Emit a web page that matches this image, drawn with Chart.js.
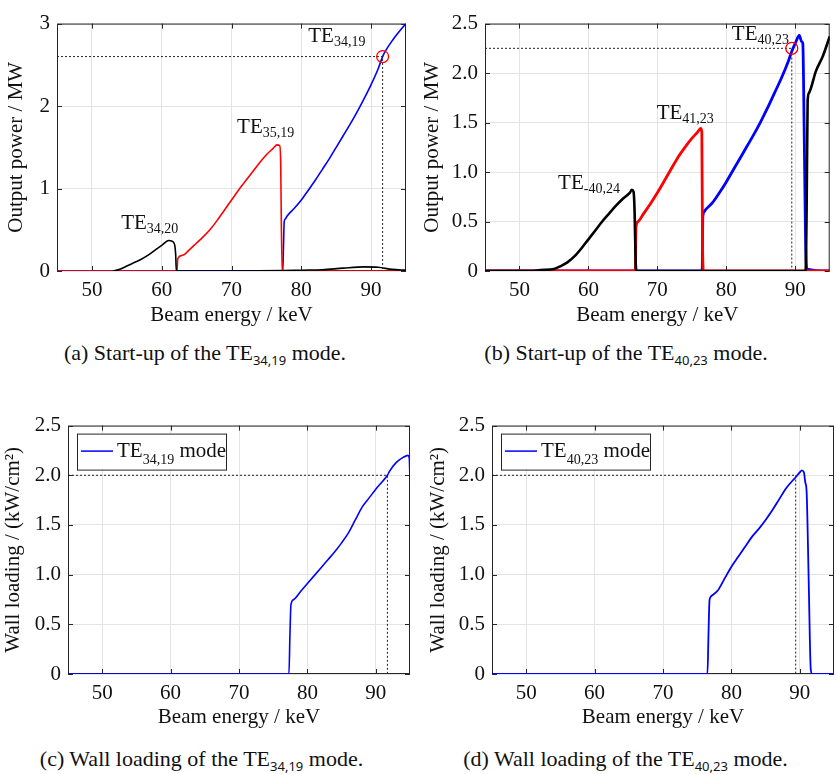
<!DOCTYPE html>
<html>
<head>
<meta charset="utf-8">
<script src="https://cdn.jsdelivr.net/npm/chart.js@4.4.1/dist/chart.umd.min.js"></script>
<style>
  body { margin: 0; background: #fff; width: 837px; height: 774px; position: relative; overflow: hidden; font-family: 'Liberation Serif', serif; }
  canvas { position: absolute; }
  .cap { position: absolute; text-align: center; font-size: 22px; line-height: 22px; color: #111; white-space: nowrap; }
  .cap sub { font-family: 'Noto Sans', sans-serif; font-size: 13px; vertical-align: -5px; line-height: 0; }
</style>
</head>
<body>
<canvas id="chartA" width="418" height="327" style="left:0px;top:4px"></canvas>
<canvas id="chartB" width="417" height="327" style="left:420px;top:4px"></canvas>
<canvas id="chartC" width="413" height="328" style="left:0px;top:406px"></canvas>
<canvas id="chartD" width="417" height="328" style="left:420px;top:406px"></canvas>

<div class="cap" style="left:0px;width:410px;top:342px">(a) Start-up of the TE<sub>34,19</sub> mode.</div>
<div class="cap" style="left:420px;width:412px;top:342px">(b) Start-up of the TE<sub>40,23</sub> mode.</div>
<div class="cap" style="left:0px;width:403px;top:748px">(c) Wall loading of the TE<sub>34,19</sub> mode.</div>
<div class="cap" style="left:420px;width:411px;top:748px">(d) Wall loading of the TE<sub>40,23</sub> mode.</div>

<script>
// axis ticks
var energyTicks = [50, 60, 70, 80, 90];
var powerTicksA = [0, 1, 2, 3];
var powerTicksB = [0, 0.5, 1, 1.5, 2, 2.5];
var wallTicks = [0, 0.5, 1, 1.5, 2, 2.5];

// (a) start-up of TE34,19 : beam energy (keV) vs output power (MW)
var aBlackE = [53, 54, 55, 56, 57, 58, 59, 60, 61, 61.5, 61.85, 62.0, 62.1, 70, 77.5, 80, 83, 86, 89, 91, 93, 95];
var aBlackP = [0, 0.02, 0.06, 0.1, 0.14, 0.19, 0.25, 0.31, 0.37, 0.36, 0.32, 0.2, 0, 0, 0.005, 0.01, 0.015, 0.035, 0.05, 0.045, 0.02, 0.01];
var aRedE = [45, 62.2, 62.3, 63, 64, 65, 66, 67, 68, 69, 70, 71, 72, 73, 74, 75, 76, 76.5, 76.9, 77.05, 77.15, 77.3, 77.5, 95];
var aRedP = [0, 0, 0.15, 0.19, 0.26, 0.34, 0.42, 0.51, 0.62, 0.74, 0.86, 0.98, 1.09, 1.2, 1.31, 1.41, 1.49, 1.53, 1.52, 1.3, 0.5, 0.02, 0, 0];
var aBlueE = [45, 77.35, 77.45, 77.55, 77.7, 78, 79, 80, 81, 82, 83, 84, 85, 86, 87, 88, 89, 90, 91, 91.65, 92, 93, 94, 95];
var aBlueP = [0, 0, 0.3, 0.6, 0.63, 0.67, 0.76, 0.86, 0.98, 1.1, 1.23, 1.36, 1.5, 1.64, 1.78, 1.93, 2.09, 2.26, 2.45, 2.6, 2.66, 2.79, 2.9, 3.0];
var aOperE = 91.65, aOperP = 2.6;

// (b) start-up of TE40,23
var bBlackE = [45, 52, 53, 55, 56, 57, 58, 59, 60, 61, 62, 63, 64, 65, 66, 66.3, 66.55, 66.7, 66.85, 67, 91.5, 91.65, 91.8, 92, 93, 94, 95];
var bBlackP = [0, 0, 0.01, 0.02, 0.05, 0.09, 0.15, 0.23, 0.32, 0.41, 0.5, 0.58, 0.66, 0.73, 0.79, 0.82, 0.8, 0.6, 0.1, 0, 0, 0.6, 1.72, 1.8, 2.02, 2.17, 2.37];
var bRedE = [45, 66.8, 66.9, 67.2, 68, 69, 70, 71, 72, 73, 74, 75, 75.8, 76.3, 76.45, 76.55, 76.7, 95];
var bRedP = [0, 0, 0.44, 0.5, 0.58, 0.68, 0.79, 0.91, 1.03, 1.15, 1.25, 1.34, 1.4, 1.44, 1.4, 0.3, 0, 0];
var bBlueE = [45, 76.5, 76.6, 76.8, 77, 78, 79, 80, 81, 82, 83, 84, 85, 86, 87, 88, 89, 89.5, 90, 90.6, 90.9, 91.1, 91.3, 91.5, 91.7, 95];
var bBlueP = [0, 0, 0.55, 0.6, 0.62, 0.69, 0.79, 0.9, 1.02, 1.14, 1.26, 1.38, 1.51, 1.65, 1.8, 1.95, 2.12, 2.22, 2.3, 2.38, 2.32, 2.3, 1.4, 0.3, 0.02, 0];
var bOperE = 89.5, bOperP = 2.25;

// (c) wall loading of TE34,19 (kW/cm^2)
var cE = [45, 77.3, 77.45, 77.6, 78, 79, 80, 81, 82, 83, 84, 85, 86, 87, 88, 89, 90, 91, 91.7, 92, 93, 94, 94.7, 94.9, 95];
var cW = [0, 0, 0.4, 0.7, 0.75, 0.83, 0.91, 0.99, 1.07, 1.15, 1.23, 1.32, 1.42, 1.55, 1.68, 1.77, 1.86, 1.94, 2.0, 2.04, 2.13, 2.18, 2.2, 2.17, 1.93];
var cLimitE = 91.7, cLimitW = 2.0;

// (d) wall loading of TE40,23
var dE = [45, 76.5, 76.65, 76.8, 77, 78, 79, 80, 81, 82, 83, 84, 85, 86, 87, 88, 89, 89.4, 90, 90.3, 90.6, 90.8, 91.0, 91.3, 91.6, 91.8, 95];
var dW = [0, 0, 0.4, 0.74, 0.78, 0.84, 0.96, 1.08, 1.18, 1.28, 1.38, 1.46, 1.55, 1.65, 1.76, 1.87, 1.95, 1.98, 2.03, 2.05, 2.03, 1.93, 1.83, 0.94, 0.05, 0, 0];
var dLimitE = 89.4, dLimitW = 2.0;

var FONT = "'Liberation Serif', serif";
var INK = '#262626';

function pts(xs, ys) {
  return xs.map(function (x, i) { return { x: x, y: ys[i] }; });
}

function curve(xs, ys, color, width) {
  return {
    data: pts(xs, ys),
    borderColor: color,
    borderWidth: width,
    pointRadius: 0,
    fill: false,
    cubicInterpolationMode: 'monotone'
  };
}

// dotted guide from the y axis to the point and down to the x axis
function guide(x, y) {
  return {
    data: [{ x: 45, y: y }, { x: x, y: y }, { x: x, y: 0 }],
    borderColor: '#222',
    borderWidth: 1,
    borderDash: [2, 2],
    pointRadius: 0,
    fill: false
  };
}

function ring(x, y) {
  return {
    data: [{ x: x, y: y }],
    showLine: false,
    pointRadius: 6,
    pointBorderWidth: 1.3,
    pointBorderColor: '#ff0000',
    pointBackgroundColor: 'rgba(0,0,0,0)'
  };
}

function subText(ctx, x, y, main, sub, after, size, subSize, drop) {
  ctx.font = size + 'px ' + FONT;
  ctx.fillText(main, x, y);
  x += ctx.measureText(main).width;
  ctx.font = subSize + 'px ' + FONT;
  ctx.fillText(sub, x, y + drop);
  x += ctx.measureText(sub).width;
  if (after) {
    ctx.font = size + 'px ' + FONT;
    ctx.fillText(after, x, y);
  }
}

// box round the axes with inward tick marks (under the curves)
var framePlugin = {
  id: 'frame',
  beforeDatasetsDraw: function (chart) {
    var a = chart.chartArea, ctx = chart.ctx;
    var xs = chart.scales.x, ys = chart.scales.y;
    ctx.save();
    ctx.strokeStyle = INK;
    ctx.lineWidth = 1;
    ctx.strokeRect(a.left + 0.5, a.top + 0.5, a.right - a.left - 1, a.bottom - a.top - 1);
    ctx.beginPath();
    xs.ticks.forEach(function (t) {
      var px = Math.round(xs.getPixelForValue(t.value)) + 0.5;
      ctx.moveTo(px, a.bottom); ctx.lineTo(px, a.bottom - 5);
      ctx.moveTo(px, a.top); ctx.lineTo(px, a.top + 5);
    });
    ys.ticks.forEach(function (t) {
      var py = Math.round(ys.getPixelForValue(t.value)) + 0.5;
      ctx.moveTo(a.left, py); ctx.lineTo(a.left + 5, py);
      ctx.moveTo(a.right, py); ctx.lineTo(a.right - 5, py);
    });
    ctx.stroke();
    ctx.restore();
  }
};

// mode names written next to the curves
var modeLabelPlugin = {
  id: 'modeLabels',
  afterDraw: function (chart, args, opts) {
    if (!opts.items) return;
    var ctx = chart.ctx, xs = chart.scales.x, ys = chart.scales.y;
    ctx.save();
    ctx.fillStyle = '#111';
    ctx.textBaseline = 'alphabetic';
    opts.items.forEach(function (it) {
      subText(ctx, xs.getPixelForValue(it.x), ys.getPixelForValue(it.y), 'TE', it.sub, '', 21, 14, 4);
    });
    ctx.restore();
  }
};

// legend box with a subscripted mode name
var subLegendPlugin = {
  id: 'subLegend',
  afterDraw: function (chart, args, opts) {
    if (!opts.sub) return;
    var ctx = chart.ctx, a = chart.chartArea;
    var x0 = a.left + 9, y0 = a.top + 8;
    ctx.save();
    ctx.fillStyle = '#fff';
    ctx.fillRect(x0, y0, 149, 36);
    ctx.strokeStyle = INK;
    ctx.lineWidth = 1;
    ctx.strokeRect(x0 + 0.5, y0 + 0.5, 149, 36);
    ctx.strokeStyle = opts.color;
    ctx.lineWidth = 1.5;
    ctx.beginPath();
    ctx.moveTo(x0 + 4, y0 + 17.5);
    ctx.lineTo(x0 + 36, y0 + 17.5);
    ctx.stroke();
    ctx.fillStyle = '#111';
    ctx.textBaseline = 'alphabetic';
    subText(ctx, x0 + 40, y0 + 23, 'TE', opts.sub, ' mode', 21, 14, 7);
    ctx.restore();
  }
};

function makeChart(id, o) {
  return new Chart(document.getElementById(id).getContext('2d'), {
    type: 'line',
    data: { datasets: o.datasets },
    options: {
      responsive: false,
      animation: false,
      events: [],
      layout: { padding: { top: 10, right: o.padRight, left: 0, bottom: 0 } },
      plugins: {
        legend: { display: false },
        tooltip: { enabled: false },
        modeLabels: { items: o.labels },
        subLegend: o.legend || {}
      },
      scales: {
        x: {
          type: 'linear',
          min: 45,
          max: 95,
          afterBuildTicks: function (s) { s.ticks = energyTicks.map(function (v) { return { value: v }; }); },
          afterFit: function (s) { s.height = 60; },
          grid: { color: '#e4e4e4', drawTicks: false },
          border: { display: false },
          ticks: { padding: 7, color: '#111', font: { family: FONT, size: 21 } },
          title: {
            display: true,
            text: 'Beam energy / keV',
            color: '#111',
            font: { family: FONT, size: 21 },
            padding: { top: 0, bottom: o.xTitlePad }
          }
        },
        y: {
          type: 'linear',
          min: 0,
          max: o.yMax,
          afterBuildTicks: function (s) { s.ticks = o.yTicks.map(function (v) { return { value: v }; }); },
          afterFit: function (s) { s.width = o.yWidth; },
          grid: { color: '#e4e4e4', drawTicks: false },
          border: { display: false },
          ticks: {
            padding: 7,
            color: '#111',
            font: { family: FONT, size: 21 },
            callback: o.fmt
          },
          title: {
            display: true,
            text: o.yTitle,
            color: '#111',
            font: { family: FONT, size: 21 },
            padding: { top: o.yTitlePad, bottom: 0 }
          }
        }
      }
    },
    plugins: [framePlugin, modeLabelPlugin, subLegendPlugin]
  });
}

function oneDecimal(v) { return v === 0 ? '0' : v.toFixed(1); }
function whole(v) { return String(v); }

var chartA = makeChart('chartA', {
  datasets: [
    ring(aOperE, aOperP),
    guide(aOperE, aOperP),
    curve(aBlackE, aBlackP, '#000000', 1.6),
    curve(aRedE, aRedP, '#ff0000', 1.6),
    curve(aBlueE, aBlueP, '#0000ff', 1.6)
  ],
  labels: [
    { x: 81.0, y: 2.78, sub: '34,19' },
    { x: 70.8, y: 1.67, sub: '35,19' },
    { x: 54.2, y: 0.51, sub: '34,20' }
  ],
  yMax: 3, yTicks: powerTicksA, fmt: whole,
  yTitle: 'Output power / MW', yWidth: 57, yTitlePad: 4, xTitlePad: 3, padRight: 12
});

var chartB = makeChart('chartB', {
  datasets: [
    ring(bOperE, bOperP),
    guide(bOperE, bOperP),
    curve(bBlackE, bBlackP, '#000000', 2.6),
    curve(bRedE, bRedP, '#ff0000', 2.8),
    curve(bBlueE, bBlueP, '#0000ff', 2.8)
  ],
  labels: [
    { x: 80.8, y: 2.33, sub: '40,23' },
    { x: 69.9, y: 1.54, sub: '41,23' },
    { x: 55.6, y: 0.83, sub: '-40,24' }
  ],
  yMax: 2.5, yTicks: powerTicksB, fmt: oneDecimal,
  yTitle: 'Output power / MW', yWidth: 65, yTitlePad: 0, xTitlePad: 3, padRight: 2
});

var chartC = makeChart('chartC', {
  datasets: [
    guide(cLimitE, cLimitW),
    curve(cE, cW, '#0000ff', 1.6)
  ],
  legend: { sub: '34,19', color: '#0000ff' },
  yMax: 2.5, yTicks: wallTicks, fmt: oneDecimal,
  yTitle: 'Wall loading / (kW/cm²)', yWidth: 68, yTitlePad: 1, xTitlePad: 4, padRight: 3
});

var chartD = makeChart('chartD', {
  datasets: [
    guide(dLimitE, dLimitW),
    curve(dE, dW, '#0000ff', 1.8)
  ],
  legend: { sub: '40,23', color: '#0000ff' },
  yMax: 2.5, yTicks: wallTicks, fmt: oneDecimal,
  yTitle: 'Wall loading / (kW/cm²)', yWidth: 72, yTitlePad: 6, xTitlePad: 4, padRight: 3
});
</script>
</body>
</html>
